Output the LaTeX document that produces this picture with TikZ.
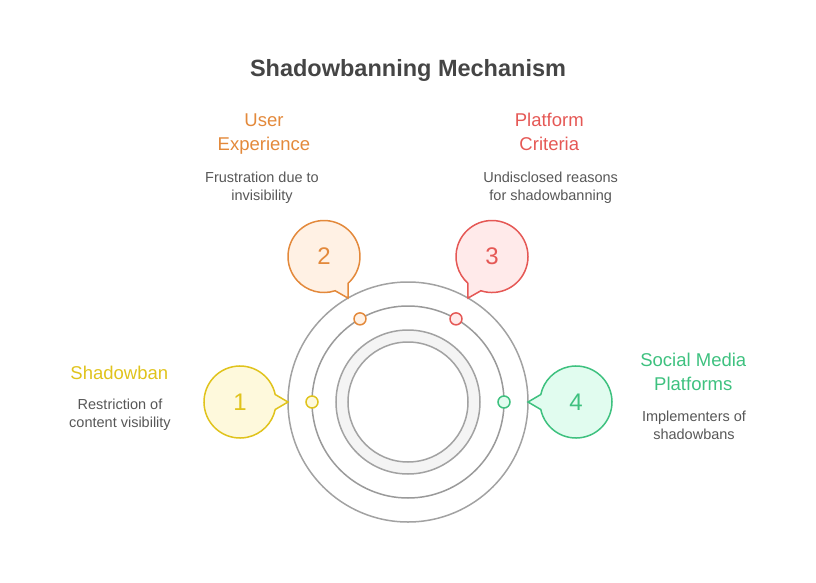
\documentclass[tikz,border=0pt]{standalone}
\usepackage{fontspec}
\setmainfont{Liberation Sans}
\usepackage{tikz}
\definecolor{ringgray}{HTML}{A2A2A2}
\definecolor{bandgray}{HTML}{F4F4F4}
\definecolor{titlegray}{HTML}{454545}
\definecolor{descgray}{HTML}{575757}
\definecolor{yelL}{HTML}{E0C31C}
\definecolor{yelF}{HTML}{FEF9DC}
\definecolor{oraL}{HTML}{E3893B}
\definecolor{oraF}{HTML}{FFF1E4}
\definecolor{redL}{HTML}{E55855}
\definecolor{redF}{HTML}{FFEAEA}
\definecolor{grnL}{HTML}{3EC17F}
\definecolor{grnF}{HTML}{E1FCEF}
\tikzset{
every picture/.style={line width=1.5pt}
}
\tikzset{
  bubble/.pic={
    \path[pic actions] (192:36) arc[start angle=192, end angle=528, radius=36] -- (-48,0) -- cycle;
  },
  ring/.style={circle, draw=ringgray, inner sep=0pt},
  dot/.style={circle, minimum size=12pt, inner sep=0pt, line width=1.5pt},
  num/.style={font=\fontsize{24}{24}\selectfont},
  head/.style={align=center, anchor=base, font=\fontsize{18.5}{24}\selectfont},
  desc/.style={align=center, anchor=base, text=descgray, font=\fontsize{14.5}{18}\selectfont}
}
\begin{document}
\begin{tikzpicture}[x=1pt, y=1pt]
    \useasboundingbox (-408,-180) rectangle (408,402);
    \node[anchor=base, text=titlegray, font=\bfseries\fontsize{23.5}{28}\selectfont] (title) at (0,325) {Shadowbanning Mechanism};

    \node[ring, minimum size=240pt] (outer) at (0,0) {};
    \node[ring, minimum size=192pt, draw=ringgray!95!black] (middle) at (0,0) {};
    \draw[ringgray, fill=bandgray, even odd rule] (0,0) circle[radius=72] (0,0) circle[radius=60];

    \foreach \ang/\col/\fil/\n in {180/yelL/yelF/1, 120/oraL/oraF/2, 60/redL/redF/3, 0/grnL/grnF/4} {
      \pic[draw=\col, fill=\fil, rotate=\ang] at (\ang:168) {bubble};
      \node[num, text=\col] (num\n) at (\ang:168) {\n};
      \node[dot, draw=\col, fill=\fil] (dot\n) at (\ang:96) {};
    }

    \node[head, text=yelL] (head1) at (-288.7,23) {Shadowban};
    \node[desc] (desc1) at (-288,-25.7) {Restriction of\\content visibility};
    \node[head, text=oraL] (head2) at (-144,251.3) {User\\Experience};
    \node[desc] (desc2) at (-146,202) {Frustration due to\\invisibility};
    \node[head, text=redL] (head3) at (141.3,251.3) {Platform\\Criteria};
    \node[desc] (desc3) at (142.7,202) {Undisclosed reasons\\for shadowbanning};
    \node[head, text=grnL] (head4) at (285.3,12) {Social Media\\Platforms};
    \node[desc] (desc4) at (286,-37.3) {Implementers of\\shadowbans};
\end{tikzpicture}
\end{document}
